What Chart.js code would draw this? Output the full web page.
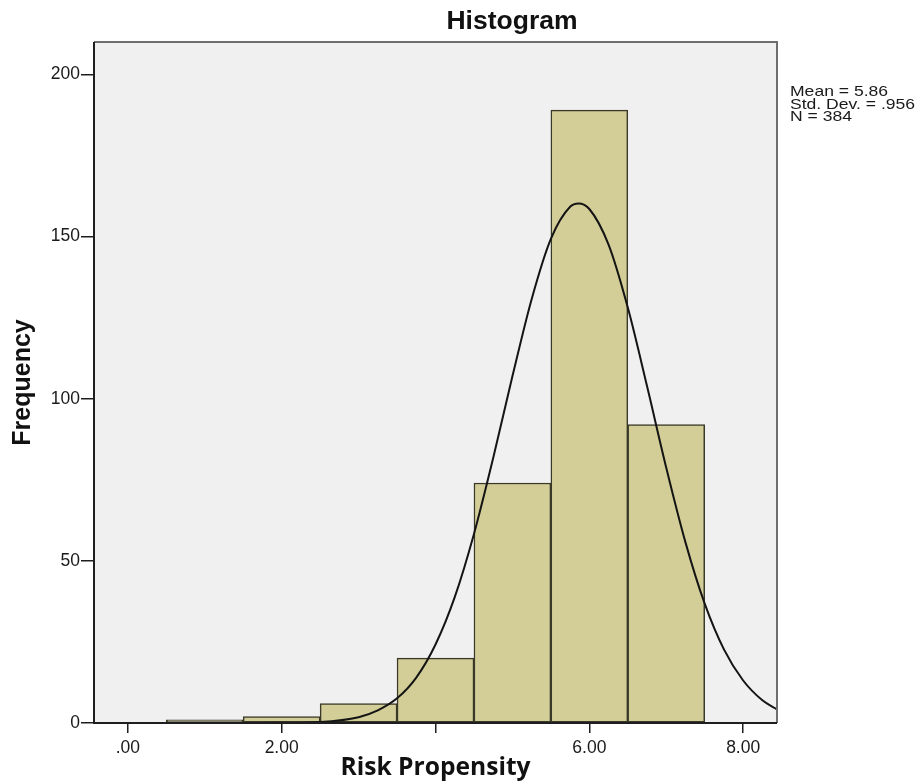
<!DOCTYPE html>
<html>
<head>
<meta charset="utf-8">
<script src="https://cdn.jsdelivr.net/npm/chart.js@4.4.1/dist/chart.umd.min.js"></script>
<style>
  html, body { margin: 0; padding: 0; background: #ffffff; }
  #wrap { width: 922px; height: 783px; }
</style>
</head>
<body>
<div id="wrap"><canvas id="hist" width="922" height="783"></canvas></div>
<script>
// Histogram bins (bin centres, width 1) and their frequencies
const binCenters = [1, 2, 3, 4, 5, 6, 7];
const binCounts  = [1, 2, 6, 20, 74, 189, 92];

// Fitted normal curve, sampled along the x axis
const curveX = [1.5, 2.0, 2.5, 3.0, 3.25, 3.5, 3.75, 4.0, 4.25, 4.5, 4.75, 5.0, 5.25, 5.5, 5.75, 5.86,
                6.0, 6.25, 6.5, 6.75, 7.0, 7.25, 7.5, 7.75, 8.0, 8.25, 8.44];
const curveY = [0.0, 0.05, 0.3, 1.8, 3.9, 7.6, 14.0, 24.2, 38.8, 58.3, 81.7, 106.9, 130.7, 149.3, 159.2, 160.2,
                158.5, 147.5, 128.1, 103.9, 78.7, 55.7, 36.8, 22.7, 13.1, 7.0, 4.2];

// Axis ticks
const xTickValues = [0, 2, 4, 6, 8];
const xTickLabels = ['.00', '2.00', '', '6.00', '8.00'];
const yTickValues = [0, 50, 100, 150, 200];

// Summary statistics box
const statLines = ['Mean = 5.86', 'Std. Dev. = .956', 'N = 384'];
const chartTitle = 'Histogram';

const SANS = '"Liberation Sans", Arial, sans-serif';

const framePlugin = {
  id: 'frame',
  beforeDatasetsDraw(chart) {
    const { ctx, chartArea: a } = chart;
    ctx.save();
    ctx.fillStyle = '#f0f0f0';
    ctx.fillRect(a.left, a.top, a.right - a.left, a.bottom - a.top);
    ctx.restore();
  },
  afterDraw(chart) {
    const { ctx, chartArea: a } = chart;
    ctx.save();
    // plot frame: light top/right, dark axis lines
    ctx.strokeStyle = '#6e6e6e';
    ctx.lineWidth = 2;
    ctx.beginPath();
    ctx.moveTo(a.left, a.top);
    ctx.lineTo(a.right, a.top);
    ctx.lineTo(a.right, a.bottom);
    ctx.stroke();
    ctx.strokeStyle = '#1e1e1e';
    ctx.beginPath();
    ctx.moveTo(a.left, a.top);
    ctx.lineTo(a.left, a.bottom);
    ctx.lineTo(a.right, a.bottom);
    ctx.stroke();

    // title
    ctx.fillStyle = '#111111';
    ctx.font = 'bold 26.5px ' + SANS;
    ctx.textAlign = 'center';
    ctx.textBaseline = 'alphabetic';
    ctx.fillText(chartTitle, 512, 29);

    // statistics, slightly widened type
    ctx.font = '15px ' + SANS;
    ctx.textAlign = 'left';
    ctx.fillStyle = '#1a1a1a';
    statLines.forEach((s, i) => {
      ctx.save();
      ctx.translate(790, 96 + i * 12.7);
      ctx.scale(1.17, 1);
      ctx.fillText(s, 0, 0);
      ctx.restore();
    });
    ctx.restore();
  }
};

const ctx = document.getElementById('hist').getContext('2d');
new Chart(ctx, {
  type: 'bar',
  data: {
    datasets: [
      {
        type: 'line',
        data: curveX.map((x, i) => ({ x, y: curveY[i] })),
        borderColor: '#141414',
        borderWidth: 2,
        pointRadius: 0,
        fill: false,
        cubicInterpolationMode: 'monotone',
        order: 0
      },
      {
        type: 'bar',
        data: binCenters.map((x, i) => ({ x, y: binCounts[i] })),
        backgroundColor: '#d3ce98',
        borderColor: '#3a3928',
        borderWidth: 1.5,
        borderSkipped: false,
        barPercentage: 1.0,
        categoryPercentage: 1.0,
        order: 1
      }
    ]
  },
  options: {
    responsive: false,
    animation: false,
    events: [],
    layout: { padding: { top: 42, right: 145, left: 0, bottom: 0 } },
    plugins: {
      legend: { display: false },
      title: { display: false },
      tooltip: { enabled: false }
    },
    scales: {
      x: {
        type: 'linear',
        min: -0.44,
        max: 8.44,
        offset: false,
        afterBuildTicks(scale) { scale.ticks = xTickValues.map(v => ({ value: v })); },
        afterFit(scale) { scale.height = 60; },
        border: { display: false },
        grid: { offset: false, drawOnChartArea: false, drawTicks: true, tickLength: 10, color: '#1e1e1e', lineWidth: 1.5 },
        ticks: {
          autoSkip: false,
          maxRotation: 0,
          padding: 5,
          color: '#1a1a1a',
          font: { family: SANS, size: 17.5 },
          callback: (v, i) => xTickLabels[i]
        },
        title: {
          display: true,
          text: 'Risk Propensity',
          color: '#111111',
          font: { family: '"Open Sans"', size: 24.6, weight: 'bold' },
          padding: { top: 0, bottom: 0 }
        }
      },
      y: {
        min: 0,
        max: 210,
        afterBuildTicks(scale) { scale.ticks = yTickValues.map(v => ({ value: v })); },
        afterFit(scale) { scale.width = 94; },
        border: { display: false },
        grid: { drawOnChartArea: false, drawTicks: true, tickLength: 13, color: '#1e1e1e', lineWidth: 1.5 },
        ticks: {
          padding: 1,
          color: '#1a1a1a',
          font: { family: SANS, size: 17.5 }
        },
        title: {
          display: true,
          text: 'Frequency',
          color: '#111111',
          font: { family: SANS, size: 25, weight: 'bold' },
          padding: { top: 8, bottom: 8 }
        }
      }
    }
  },
  plugins: [framePlugin]
});
</script>
</body>
</html>
